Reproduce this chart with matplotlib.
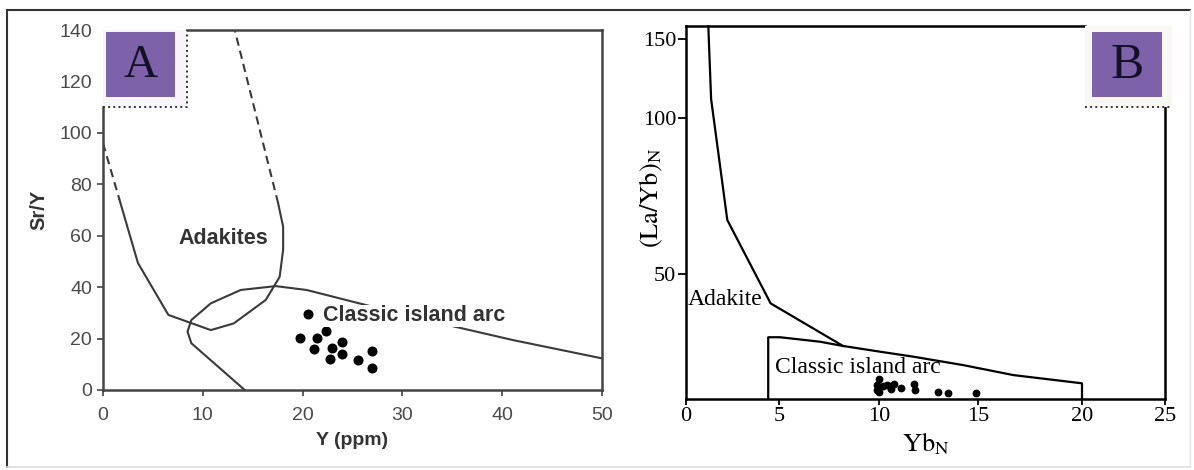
import numpy as np
import matplotlib
matplotlib.use('Agg')
import matplotlib.pyplot as plt
from matplotlib.patches import Rectangle
from matplotlib.lines import Line2D

plt.rcParams.update({
    'font.family': 'Liberation Sans',
    'mathtext.fontset': 'stix',
})

# ---- panel A: Sr/Y vs Y ----
A_adak_dash1_x = [0, 1.65]
A_adak_dash1_y = [96, 74]
A_adak_x = [1.65, 3.5, 6.55, 10.8, 13.1, 16.3, 17.7, 18.05, 18.05, 17.55]
A_adak_y = [74, 49.4, 29.2, 23.3, 25.9, 35, 44, 54.5, 63.5, 72.6]
A_adak_dash2_x = [17.55, 13.2]
A_adak_dash2_y = [72.6, 140]
A_arc_x = [14.2, 8.85, 8.47, 8.85, 10.8, 13.8, 17.3, 20.4, 27.6, 34.5, 41.1, 50]
A_arc_y = [0, 18.2, 22.7, 27.2, 33.7, 38.9, 40.4, 38.9, 31.8, 25.3, 19.4, 12.3]
A_pts_x = [20.5, 19.7, 21.4, 22.3, 23.9, 21.1, 22.9, 23.9, 22.7, 25.6, 27.0, 27.0]
A_pts_y = [29.6, 20.1, 20.1, 22.9, 18.8, 15.8, 16.2, 13.9, 12.1, 11.7, 15.3, 8.4]

# ---- panel B: (La/Yb)N vs YbN ----
B_adak_x = [1.2, 1.35, 2.22, 4.55, 8.2]
B_adak_y = [158, 112, 67.3, 38.2, 21.1]
B_arc_x = [4.42, 4.42, 5.05, 7.05, 8.2, 10.05, 11.73, 14.26, 16.7, 20.0, 20.0]
B_arc_y = [0, 24.6, 24.6, 22.8, 21.1, 18.8, 16.8, 13.4, 9.4, 6.1, 0]
B_pts_x = [10.0, 9.9, 10.0, 10.2, 10.4, 10.55, 10.6, 10.75, 11.1, 11.77, 11.8, 13.0, 13.5, 14.9, 9.9]
B_pts_y = [7.7, 5.4, 2.7, 5.0, 5.4, 5.0, 3.7, 5.8, 4.1, 5.8, 3.4, 2.5, 2.3, 2.3, 3.4]

# the printed B axes are not evenly spaced: tick value -> pixel offset
B_xticks = [0, 5, 10, 15, 20, 25]
B_xpos = [0, 93, 193, 292, 396, 479]
B_yticks = [0, 50, 100, 150]
B_ypos = [0, 124.5, 280.5, 359.5]


def pw_scale(vals, pos):
    vals = np.asarray(vals, float); pos = np.asarray(pos, float)
    s0 = (pos[1]-pos[0])/(vals[1]-vals[0]); s1 = (pos[-1]-pos[-2])/(vals[-1]-vals[-2])
    v = np.r_[vals[0]-1e4, vals, vals[-1]+1e4]
    p = np.r_[pos[0]-1e4*s0, pos, pos[-1]+1e4*s1]
    return (lambda x: np.interp(x, v, p)), (lambda y: np.interp(y, p, v))


PURPLE = '#7E62A9'
W, H = 1194, 470
fig = plt.figure(figsize=(W/100, H/100), dpi=100)

# outer frame
fig.add_artist(Line2D([7/W, 7/W], [1-10/H, 1-467/H], color='#333333', lw=1.5, transform=fig.transFigure))
fig.add_artist(Line2D([7/W, 1190/W], [1-10/H, 1-10/H], color='#333333', lw=1.5, transform=fig.transFigure))
fig.add_artist(Line2D([7/W, 1190/W], [1-467/H, 1-467/H], color='#dddddd', lw=1.2, transform=fig.transFigure))
fig.add_artist(Line2D([1190/W, 1190/W], [1-10/H, 1-467/H], color='#e6e6e6', lw=1.0, transform=fig.transFigure))

# ================= panel A =================
ax = fig.add_axes([103/W, 80/H, 499/W, 360/H])
lc = '#3a3a3a'
ax.plot(A_adak_dash1_x, A_adak_dash1_y, color=lc, lw=1.5, ls=(0, (4, 2.5)))
ax.plot(A_adak_x, A_adak_y, color=lc, lw=1.5)
ax.plot(A_adak_dash2_x, A_adak_dash2_y, color=lc, lw=1.5, ls=(0, (4, 2.5)), clip_on=False)
ax.plot(A_arc_x, A_arc_y, color=lc, lw=1.5, clip_on=False)
ax.plot(A_pts_x, A_pts_y, 'o', color='black', ms=6.2, ls='none')
ax.text(12.1, 59, 'Adakites', fontsize=15.5, fontweight='bold', color='#333333',
        ha='center', va='center')
ax.text(22.0, 28.8, 'Classic island arc', fontsize=15.5, fontweight='bold', color='#333333',
        ha='left', va='center', bbox=dict(facecolor='white', edgecolor='none', pad=0.5))
ax.set_xlim(0, 50); ax.set_ylim(0, 140)
ax.set_xticks(range(0, 51, 10)); ax.set_yticks(range(0, 141, 20))
ax.tick_params(direction='out', length=4, width=1.2, color='#444444', labelcolor='#4a4a4a',
               labelsize=14)
ax.tick_params(axis='x', pad=8)
ax.tick_params(axis='y', pad=4)
for t in ax.yaxis.get_major_ticks()[-2:]:
    t.tick1line.set_visible(False)
for s in ax.spines.values():
    s.set_color('#444444'); s.set_linewidth(1.8)
ax.spines['left'].set_bounds(0, 110)
ax.spines['top'].set_bounds(8.4, 50)
ax.set_xlabel('Y (ppm)', fontsize=14, fontweight='bold', color='#333333', labelpad=6)
ax.set_ylabel('Sr/Y', fontsize=14.5, fontweight='bold', color='#333333', labelpad=8)
# label box "A"
ax.add_patch(Rectangle((0, 0.786), 0.168, 0.214, transform=ax.transAxes, facecolor='#f7f5fa',
                       edgecolor='none', clip_on=False, zorder=3))
ax.add_patch(Rectangle((0.006, 0.814), 0.138, 0.18, transform=ax.transAxes, facecolor=PURPLE,
                       edgecolor='none', clip_on=False, zorder=4))
ax.plot([0, 0.168, 0.168], [0.786, 0.786, 1.0], transform=ax.transAxes, color='#333333',
        lw=1.4, ls=':', clip_on=False, zorder=5)
ax.text(0.075, 0.902, 'A', transform=ax.transAxes, fontsize=34, family='Liberation Serif',
        color='#15102a', ha='center', va='center', zorder=6)

# ================= panel B =================
bx = fig.add_axes([686/W, 71.5/H, 479/W, 372.5/H])
fx, ix = pw_scale(B_xticks, B_xpos)
fy, iy = pw_scale(B_yticks, B_ypos)
bx.set_xscale('function', functions=(fx, ix))
bx.set_yscale('function', functions=(fy, iy))
bx.plot(B_adak_x, B_adak_y, color='black', lw=1.6, clip_on=False)
bx.plot(B_arc_x, B_arc_y, color='black', lw=1.6)
bx.plot(B_pts_x, B_pts_y, 'o', color='black', ms=4.6, ls='none')
serif = 'Liberation Serif'
bx.text(0.1, 39.6, 'Adakite', fontsize=17, family=serif, ha='left', va='center')
bx.text(4.8, 12.5, 'Classic island arc', fontsize=17, family=serif, ha='left', va='center')
bx.set_xlim(0, 25); bx.set_ylim(0, 158.2)
bx.set_xticks(B_xticks); bx.set_yticks(B_yticks[1:])
bx.set_xticklabels([str(v) for v in B_xticks], family=serif)
bx.set_yticklabels([str(v) for v in B_yticks[1:]], family=serif)
bx.tick_params(direction='out', length=6, width=1.3, labelsize=16, pad=1)
bx.tick_params(axis='x', length=4, pad=2)
for s in bx.spines.values():
    s.set_linewidth(1.8)
bx.spines['top'].set_bounds(0, 20.2)
bx.spines['right'].set_bounds(0, 107)
bx.set_xlabel(r'$\mathrm{Yb_N}$', fontsize=19, labelpad=3)
bx.set_ylabel(r'$\mathrm{(La/Yb)_N}$', fontsize=19)
bx.yaxis.set_label_coords(-0.044, 0.54)
# label box "B"
bx.add_patch(Rectangle((0.833, 0.7826), 0.182, 0.2174, transform=bx.transAxes, facecolor='#f8f7f3',
                       edgecolor='none', clip_on=False, zorder=3))
bx.add_patch(Rectangle((0.848, 0.809), 0.146, 0.175, transform=bx.transAxes, facecolor=PURPLE,
                       edgecolor='none', clip_on=False, zorder=4))
bx.plot([0.833, 1.015], [0.7826, 0.7826], transform=bx.transAxes, color='#333333',
        lw=1.4, ls=':', clip_on=False, zorder=5)
bx.text(0.921, 0.894, 'B', transform=bx.transAxes, fontsize=36, family=serif,
        color='#15102a', ha='center', va='center', zorder=6)

fig.savefig('out.png', dpi=100)
